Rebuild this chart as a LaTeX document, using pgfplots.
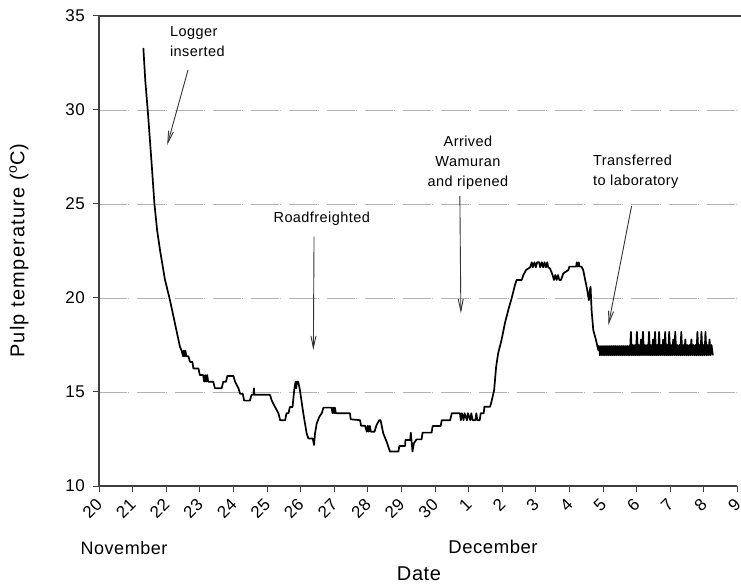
\documentclass[border=0pt]{standalone}
\usepackage{pgfplots}
\pgfplotsset{compat=1.18}
\usepackage{fontspec}
\setmainfont{Liberation Sans}[LetterSpace=3]
\newfontfamily\ylabfont{Liberation Sans}[LetterSpace=6]
\usetikzlibrary{arrows.meta}
\newcommand{\annot}{\fontsize{14.5bp}{20bp}\selectfont}
\begin{document}
\begin{tikzpicture}
\path[use as bounding box] (-99bp,-100bp) rectangle (642bp,486bp);
\begin{axis}[
  at={(0,0)}, anchor=south west,
  scale only axis, width=638.4bp, height=470bp,
  xmin=0, xmax=19, ymin=10, ymax=35,
  axis x line*=bottom, axis y line*=left,
  axis line style={line width=1.2bp, black!75, -},
  xtick={0,...,19},
  xticklabels={20,21,22,23,24,25,26,27,28,29,30,1,2,3,4,5,6,7,8,9},
  ytick={10,15,...,35},
  tick align=outside,
  major tick length=6bp,
  tick style={line width=1bp, black!75},
  ymajorgrids,
  major grid style={line width=0.9bp, black!30, dash pattern=on 27.5bp off 1.5bp on 0.8bp off 8.2bp},
  /pgf/number format/assume math mode=true,
  ticklabel style={font=\fontsize{17bp}{20bp}\selectfont},
  xticklabel style={xshift=1bp, yshift=-9bp, rotate=45, anchor=east, inner sep=1bp},
  yticklabel style={inner sep=2bp, xshift=-6bp},
  clip=false,
]
\addplot[line width=1.7bp, black, line join=round, mark=none] coordinates {
(1.32,33.3)(1.38,31.5)(1.45,30.0)(1.52,28.3)(1.58,26.8)(1.65,25.0)(1.73,23.6)(1.82,22.5)
(1.96,21.0)(2.11,19.9)(2.26,18.65)(2.41,17.4)
(2.46,17.2)(2.50,16.9)(2.52,17.2)(2.55,16.9)(2.57,17.2)(2.60,16.9)
(2.66,16.9)(2.71,16.6)(2.78,16.6)(2.81,16.25)(2.96,16.25)(3.00,15.9)
(3.10,15.9)(3.13,15.55)(3.16,15.9)(3.19,15.55)(3.22,15.9)(3.25,15.55)
(3.40,15.55)(3.45,15.2)(3.65,15.2)(3.70,15.55)(3.78,15.55)(3.82,15.85)(4.00,15.85)
(4.05,15.55)(4.15,15.2)(4.20,14.9)(4.28,14.9)(4.32,14.54)(4.49,14.54)(4.54,14.85)
(4.60,14.85)(4.61,15.2)(4.62,14.85)(5.09,14.85)(5.14,14.55)(5.24,14.2)(5.34,13.87)
(5.39,13.5)(5.54,13.5)(5.58,13.87)(5.64,13.87)(5.68,14.2)(5.76,14.2)(5.81,15.1)
(5.85,15.55)(5.87,15.2)(5.89,15.55)(5.93,15.55)(5.98,15.1)(6.08,13.87)(6.18,12.8)
(6.23,12.53)(6.36,12.53)(6.40,12.18)(6.43,12.8)(6.48,13.33)(6.56,13.69)(6.63,13.87)
(6.68,14.17)(6.92,14.17)(6.95,13.87)(6.97,14.17)(7.00,13.87)(7.02,14.17)(7.05,13.87)
(7.47,13.87)(7.49,13.55)(7.77,13.5)(7.80,13.2)(7.92,13.2)(7.97,12.89)
(8.00,13.2)(8.03,12.89)(8.06,13.2)(8.09,12.89)(8.20,12.89)(8.26,13.24)(8.34,13.5)
(8.38,13.5)(8.46,12.8)(8.56,12.36)(8.66,11.83)(8.91,11.83)(8.94,12.13)(9.11,12.13)
(9.12,12.45)(9.26,12.45)(9.28,12.84)(9.33,11.83)(9.37,12.27)(9.45,12.48)(9.60,12.48)
(9.63,12.84)(9.90,12.84)(9.93,13.19)(10.17,13.19)(10.20,13.5)(10.45,13.5)(10.50,13.87)
(10.74,13.87)(10.77,13.5)(10.80,13.87)(10.85,13.5)(10.88,13.87)(10.95,13.5)(10.98,13.87)
(11.05,13.5)(11.08,13.87)(11.12,13.5)(11.20,13.5)(11.23,13.87)(11.26,13.5)(11.33,13.5)
(11.36,13.87)(11.45,13.87)(11.47,14.22)(11.64,14.22)(11.68,14.48)(11.76,15.1)
(11.82,16.35)(11.88,17.06)(11.98,17.77)(12.08,18.65)(12.18,19.36)(12.28,19.98)
(12.38,20.69)(12.43,20.96)(12.58,20.96)(12.63,21.22)(12.71,21.49)(12.83,21.63)
(12.88,21.9)(12.91,21.63)(12.96,21.9)(13.00,21.63)(13.04,21.9)(13.10,21.9)(13.13,21.63)
(13.18,21.9)(13.22,21.63)(13.26,21.9)(13.30,21.63)(13.34,21.9)(13.37,21.63)
(13.42,21.58)(13.50,21.22)(13.54,20.96)(13.58,21.22)(13.62,20.96)(13.66,21.22)
(13.70,20.96)(13.75,20.96)(13.82,21.31)(13.97,21.49)(14.00,21.67)(14.20,21.67)
(14.22,21.9)(14.24,21.67)(14.28,21.9)(14.30,21.67)(14.36,21.67)(14.41,21.49)
(14.46,21.05)(14.53,20.43)(14.58,19.89)(14.61,20.43)(14.63,20.6)(14.66,19.36)
(14.71,18.3)(14.79,17.77)(14.86,17.23)
(14.88,17.45)(14.91,16.95)(14.94,17.45)(14.97,16.95)(15.00,17.45)(15.03,16.95)
(15.06,17.45)(15.09,16.95)(15.12,17.45)(15.15,16.95)(15.18,17.45)(15.21,16.95)
(15.24,17.45)(15.27,16.95)(15.30,17.45)(15.33,16.95)(15.36,17.45)(15.39,16.95)
(15.42,17.45)(15.45,16.95)(15.48,17.45)(15.51,16.95)(15.54,17.45)(15.57,16.95)
(15.60,17.45)(15.63,16.95)(15.66,17.45)(15.69,16.95)(15.72,17.45)(15.75,16.95)
(15.78,17.45)(15.80,16.95)
(15.83,18.2)(15.86,16.95)(15.89,17.5)(15.92,16.95)(15.95,17.5)(15.98,16.95)
(16.01,18.2)(16.04,16.95)(16.07,17.5)(16.10,16.95)(16.13,17.8)(16.16,16.95)
(16.19,18.2)(16.22,16.95)(16.25,17.5)(16.28,16.95)(16.31,17.5)(16.34,16.95)
(16.37,18.2)(16.40,16.95)(16.43,17.5)(16.46,16.95)(16.49,17.8)(16.52,16.95)
(16.55,18.2)(16.58,16.95)(16.61,17.5)(16.64,16.95)(16.67,18.2)(16.70,16.95)
(16.73,17.5)(16.76,16.95)(16.79,17.8)(16.82,16.95)(16.85,18.2)(16.88,16.95)
(16.91,17.5)(16.94,16.95)(16.97,18.2)(17.00,16.95)(17.03,17.5)(17.06,16.95)
(17.09,17.8)(17.12,16.95)(17.15,18.2)(17.18,16.95)(17.21,17.5)(17.24,16.95)
(17.27,17.5)(17.30,16.95)(17.33,18.2)(17.36,16.95)(17.39,17.5)(17.42,16.95)
(17.45,17.8)(17.48,16.95)(17.51,17.5)(17.54,16.95)(17.57,17.5)(17.60,16.95)
(17.63,17.8)(17.66,16.95)(17.69,17.5)(17.72,16.95)(17.75,17.5)(17.78,16.95)
(17.81,18.2)(17.84,16.95)(17.87,17.5)(17.90,16.95)(17.93,18.2)(17.96,16.95)
(17.99,17.5)(18.02,16.95)(18.05,18.2)(18.08,16.95)(18.11,17.5)(18.14,16.95)
(18.17,17.8)(18.20,16.95)(18.23,17.5)(18.27,16.95)
};
\tikzset{annarrow/.style={line width=0.9bp, black!80, -{Straight Barb[length=12bp,width=5bp]}}}
\node[anchor=west, align=left, inner sep=0pt, font=\annot] at (axis cs:2.11,33.63) {Logger\\inserted};
\draw[annarrow] (axis cs:2.65,32.13) -- (axis cs:2.03,28.14);
\node[anchor=center, inner sep=0pt, font=\annot] at (axis cs:6.63,24.24) {Roadfreighted};
\draw[annarrow] (axis cs:6.40,23.26) -- (axis cs:6.38,17.23);
\node[anchor=center, align=center, inner sep=0pt, font=\annot] at (axis cs:10.98,27.17) {Arrived\\Wamuran\\and ripened};
\draw[annarrow] (axis cs:10.74,25.43) -- (axis cs:10.77,19.19);
\node[anchor=west, align=left, inner sep=0pt, font=\annot] at (axis cs:14.70,26.69) {Transferred\\to laboratory};
\draw[annarrow] (axis cs:15.85,24.89) -- (axis cs:15.16,18.56);
\end{axis}
\draw[line width=1.2bp, black!75] (0,470bp) -- (642bp,470bp);
\node[anchor=base, font=\fontsize{18bp}{20bp}\selectfont] at (25bp,-68bp) {November};
\node[anchor=base, font=\fontsize{18.5bp}{20bp}\selectfont] at (394bp,-67bp) {December};
\node[anchor=base, font=\fontsize{20bp}{24bp}\selectfont] at (320bp,-94bp) {Date};
\node[rotate=90, anchor=center, font=\fontsize{20bp}{24bp}\ylabfont] at (-80bp,235.5bp) {Pulp temperature (\textsuperscript{o}C)};
\end{tikzpicture}
\end{document}
